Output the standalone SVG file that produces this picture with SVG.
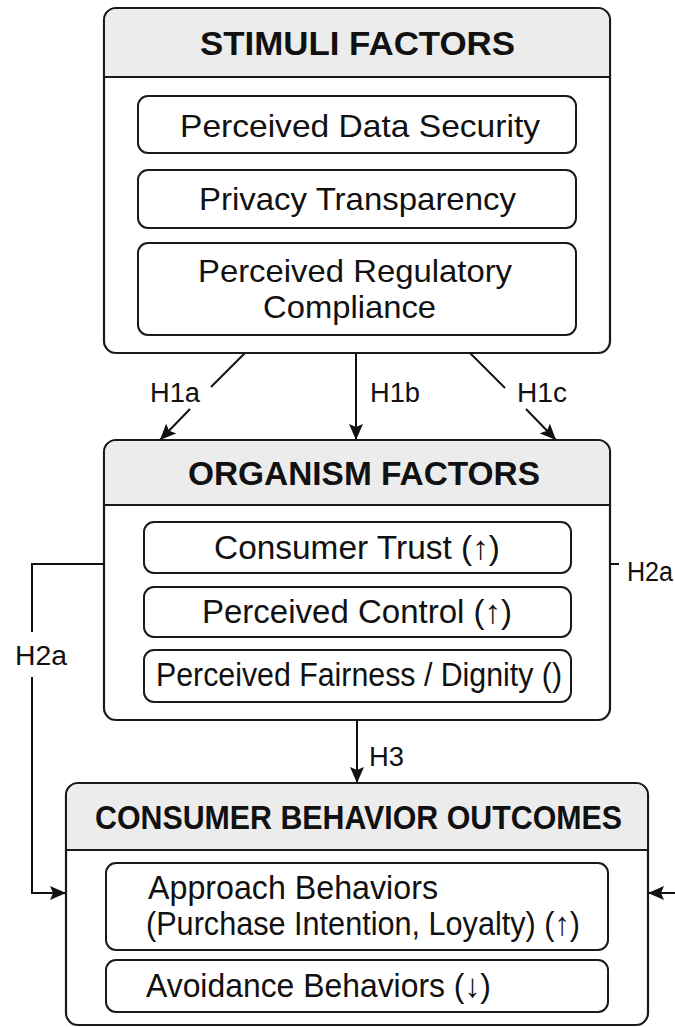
<svg xmlns="http://www.w3.org/2000/svg" width="675" height="1027" viewBox="0 0 675 1027">
  <defs>
    <marker id="arrow" viewBox="0 0 16 14" refX="16" refY="7" markerWidth="16" markerHeight="14" markerUnits="userSpaceOnUse" orient="auto">
      <path d="M0,0 L16,7 L0,14 L3,7 z" fill="#111"/>
    </marker>
    <style>
      .panel { fill: #ffffff; stroke: #1a1a1a; stroke-width: 2.2; }
      .head { fill: #ececec; stroke: none; }
      .rule { stroke: #1a1a1a; stroke-width: 2; }
      .item { fill: #ffffff; stroke: #1a1a1a; stroke-width: 2; }
      .title { font-family: "Liberation Sans", Arial, sans-serif; font-weight: bold; font-size: 33px; fill: #111; }
      .txt { font-family: "Liberation Sans", "DejaVu Sans", Arial, sans-serif; font-size: 32px; fill: #111; }
      .cond { font-size: 33px; }
      .lbl { font-family: "Liberation Sans", Arial, sans-serif; font-size: 27px; fill: #111; }
      .edge { fill: none; stroke: #111; stroke-width: 2; }
    </style>
  </defs>
  <rect width="675" height="1027" fill="#ffffff"/>

  <!-- Stimuli panel -->
  <g id="stimuli">
    <rect class="panel" x="104" y="8" width="506" height="345" rx="12"/>
    <path class="head" d="M116,9.2 H598 A11,11 0 0 1 608.9,20 V76 H105.1 V20 A11,11 0 0 1 116,9.2 z"/>
    <line class="rule" x1="104" y1="77" x2="610" y2="77"/>
    <text class="title" x="357.5" y="55" text-anchor="middle" textLength="315" lengthAdjust="spacingAndGlyphs">STIMULI FACTORS</text>
    <g id="data-security">
      <rect class="item" x="138" y="96" width="438" height="57" rx="10"/>
      <text class="txt" x="360" y="137" text-anchor="middle" textLength="360" lengthAdjust="spacingAndGlyphs">Perceived Data Security</text>
    </g>
    <g id="privacy-transparency">
      <rect class="item" x="138" y="170" width="438" height="58" rx="10"/>
      <text class="txt" x="357.5" y="210" text-anchor="middle" textLength="317" lengthAdjust="spacingAndGlyphs">Privacy Transparency</text>
    </g>
    <g id="regulatory-compliance">
      <rect class="item" x="138" y="243" width="438" height="92" rx="10"/>
      <text class="txt" x="355" y="282" text-anchor="middle" textLength="314" lengthAdjust="spacingAndGlyphs">Perceived Regulatory</text>
      <text class="txt" x="349.5" y="318" text-anchor="middle" textLength="173" lengthAdjust="spacingAndGlyphs">Compliance</text>
    </g>
  </g>

  <!-- Organism panel -->
  <g id="organism">
    <rect class="panel" x="104" y="440" width="506" height="280" rx="12"/>
    <path class="head" d="M116,441.2 H598 A11,11 0 0 1 608.9,452 V504 H105.1 V452 A11,11 0 0 1 116,441.2 z"/>
    <line class="rule" x1="104" y1="505" x2="610" y2="505"/>
    <text class="title" x="364" y="485" text-anchor="middle" textLength="352" lengthAdjust="spacingAndGlyphs">ORGANISM FACTORS</text>
    <g id="consumer-trust">
      <rect class="item" x="144" y="522" width="427" height="51" rx="10"/>
      <text class="txt cond" x="357" y="559" text-anchor="middle" textLength="286" lengthAdjust="spacingAndGlyphs">Consumer Trust (↑)</text>
    </g>
    <g id="perceived-control">
      <rect class="item" x="144" y="587" width="427" height="50" rx="10"/>
      <text class="txt cond" x="357" y="623" text-anchor="middle" textLength="310" lengthAdjust="spacingAndGlyphs">Perceived Control (↑)</text>
    </g>
    <g id="fairness-dignity">
      <rect class="item" x="144" y="650" width="427" height="52" rx="10"/>
      <text class="txt cond" x="156" y="686" textLength="406" lengthAdjust="spacingAndGlyphs">Perceived Fairness / Dignity ()</text>
    </g>
  </g>

  <!-- Outcomes panel -->
  <g id="outcomes">
    <rect class="panel" x="66" y="783" width="582" height="242" rx="12"/>
    <path class="head" d="M78,784.2 H636 A11,11 0 0 1 646.9,795 V849 H67.1 V795 A11,11 0 0 1 78,784.2 z"/>
    <line class="rule" x1="66" y1="850" x2="648" y2="850"/>
    <text class="title" x="358.5" y="829" text-anchor="middle" textLength="527" lengthAdjust="spacingAndGlyphs">CONSUMER BEHAVIOR OUTCOMES</text>
    <g id="approach">
      <rect class="item" x="106" y="863" width="502" height="87" rx="10"/>
      <text class="txt cond" x="148" y="899" textLength="290" lengthAdjust="spacingAndGlyphs">Approach Behaviors</text>
      <text class="txt cond" x="146" y="935" textLength="434" lengthAdjust="spacingAndGlyphs">(Purchase Intention, Loyalty) (↑)</text>
    </g>
    <g id="avoidance">
      <rect class="item" x="106" y="960" width="502" height="52" rx="10"/>
      <text class="txt cond" x="146" y="997" textLength="345" lengthAdjust="spacingAndGlyphs">Avoidance Behaviors (↓)</text>
    </g>
  </g>

  <!-- Connectors -->
  <g id="connectors">
    <!-- H1a -->
    <line class="edge" x1="245" y1="353" x2="211" y2="387"/>
    <line class="edge" x1="190" y1="409" x2="160" y2="440" marker-end="url(#arrow)"/>
    <!-- H1b -->
    <line class="edge" x1="356" y1="353" x2="356" y2="440" marker-end="url(#arrow)"/>
    <!-- H1c -->
    <line class="edge" x1="470" y1="353" x2="505" y2="388"/>
    <line class="edge" x1="526" y1="409" x2="556" y2="440" marker-end="url(#arrow)"/>
    <!-- H2a left route -->
    <polyline class="edge" points="104,564 32,564 32,632"/>
    <polyline class="edge" points="32,677 32,893 66,893" marker-end="url(#arrow)"/>
    <!-- H2a right route -->
    <line class="edge" x1="610" y1="564" x2="619" y2="564"/>
    <line class="edge" x1="675" y1="893" x2="648" y2="893" marker-end="url(#arrow)"/>
    <!-- H3 -->
    <line class="edge" x1="357" y1="720" x2="357" y2="783" marker-end="url(#arrow)"/>

    <text class="lbl" x="150" y="402" textLength="50" lengthAdjust="spacingAndGlyphs">H1a</text>
    <text class="lbl" x="370" y="402" textLength="50" lengthAdjust="spacingAndGlyphs">H1b</text>
    <text class="lbl" x="517" y="402" textLength="50" lengthAdjust="spacingAndGlyphs">H1c</text>
    <text class="lbl" x="15" y="665" textLength="52" lengthAdjust="spacingAndGlyphs">H2a</text>
    <text class="lbl" x="627" y="581" textLength="46" lengthAdjust="spacingAndGlyphs">H2a</text>
    <text class="lbl" x="369" y="766" textLength="35" lengthAdjust="spacingAndGlyphs">H3</text>
  </g>
</svg>
